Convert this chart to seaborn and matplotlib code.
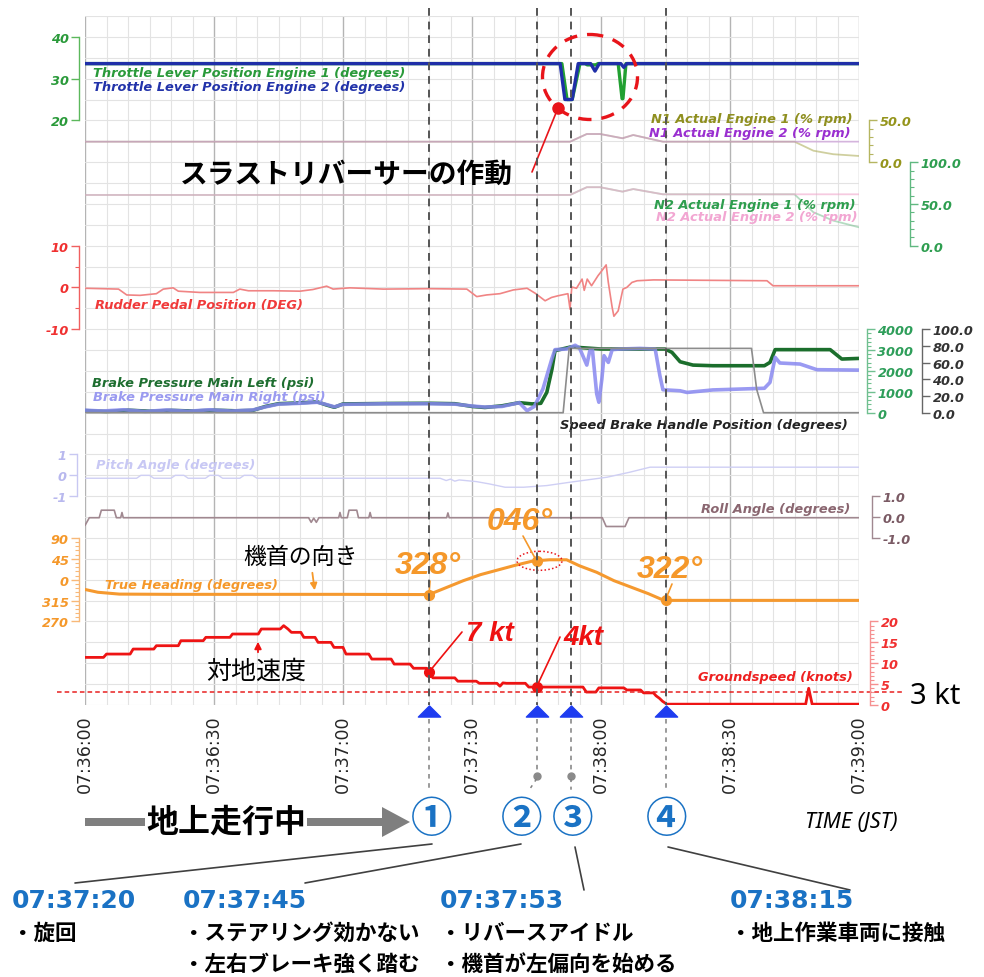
import numpy as np
import matplotlib
matplotlib.use("Agg")
import matplotlib.pyplot as plt
import seaborn as sns
from matplotlib.ticker import FixedLocator, MultipleLocator
from matplotlib.patches import Ellipse, FancyArrow
from matplotlib.markers import MarkerStyle
from matplotlib.path import Path

# ---------------- data (seconds after 07:36:00) ----------------
time_ticks = [0, 30, 60, 90, 120, 150, 180]
time_labels = ["07:36:00", "07:36:30", "07:37:00", "07:37:30", "07:38:00", "07:38:30", "07:39:00"]

events_t = [80, 105, 113, 135]
events_num = ["①", "②", "③", "④"]
events_time = ["07:37:20", "07:37:45", "07:37:53", "07:38:15"]
events_desc = [["・旋回"], ["・ステアリング効かない", "・左右ブレーキ強く踏む"],
               ["・リバースアイドル", "・機首が左偏向を始める"], ["・地上作業車両に接触"]]

th1_t = [0, 110.9, 112.1, 113.3, 115.1, 116.3, 116.8, 118.8, 119.3, 124.0, 124.9, 125.1, 125.8, 180]
th1_v = [33.6, 33.6, 25.0, 25.0, 33.6, 33.6, 33.3, 33.3, 33.6, 33.6, 25.2, 25.2, 33.6, 33.6]
th2_t = [0, 110.5, 111.6, 113.3, 114.7, 117.6, 118.6, 119.6, 124.6, 125.3, 126.0, 180]
th2_v = [33.6, 33.6, 25.0, 25.0, 33.6, 33.6, 31.8, 33.6, 33.6, 32.7, 33.6, 33.6]

n_t = [0, 112.8, 116.7, 119.8, 125.0, 127.5, 134.4, 165.0, 169.4, 174.0, 180]
n1e1_v = [24.5, 24.5, 33.7, 33.7, 28.6, 32.5, 24.5, 24.5, 13.7, 9.5, 7.4]
n1e2_v = [24.5, 24.5, 33.7, 33.7, 28.6, 32.5, 24.5, 24.5, 24.5, 24.5, 24.5]
n2e1_v = [60.7, 60.7, 70.0, 70.0, 64.7, 67.8, 61.5, 61.5, 40.0, 30.0, 22.0]
n2e2_v = [60.7, 60.7, 70.0, 70.0, 64.7, 67.8, 61.5, 61.5, 61.5, 61.5, 61.5]

rd_t = [0, 7.8, 9.7, 12.8, 16.6, 18.2, 20.5, 21.7, 26.7, 34.5, 36, 38, 43.8, 50, 53, 56.2, 57.7, 61.6,
        69.4, 80, 88.8, 91.1, 93.4, 96.5, 99.6, 102.8, 104.7, 107, 108.5, 110, 112.3, 112.8, 113.2,
        114.3, 115.6, 116.1, 116.8, 117.8, 119.3, 120.2, 121.2, 121.7, 122.6, 123, 124, 125.1, 126,
        127.2, 128.4, 132.2, 158.6, 160, 180]
rd_v = [-0.2, -0.4, -1.8, -1.9, -1.5, -0.4, -0.1, -0.9, -1.2, -1.2, -0.4, -0.8, -0.8, -0.9, -0.5, 0.3,
        -0.4, -0.1, -0.4, -0.3, -0.4, -2.2, -1.8, -1.5, -0.6, -0.2, -1.4, -3.2, -2.4, -2.0, -1.5, -5.2,
        0.1, -0.2, 2.0, -0.7, 2.0, 0.4, 2.8, 4.0, 5.4, 1.2, -4.8, -6.9, -5.6, -0.4, 0.0, 1.2, 1.6, 1.8,
        1.6, 0.4, 0.4]

bl_t = [0, 5, 10, 15, 20, 25, 30, 35, 39, 42, 45, 50, 54, 56, 58, 60, 70, 80, 86, 90, 93, 97, 101,
        104, 106, 107.4, 108.6, 109.3, 113, 120, 134.9, 136.5, 138.4, 141.4, 146, 158, 159.3, 160.5,
        173.3, 176, 180]
bl_v = [100, 60, 120, 70, 110, 80, 120, 90, 110, 300, 430, 470, 520, 380, 260, 420, 440, 450, 430,
        300, 250, 330, 480, 420, 450, 975, 2090, 2970, 3150, 3050, 3050, 2890, 2440, 2280, 2250, 2250,
        2410, 3020, 3020, 2570, 2600]
br_t = [0, 4, 9, 14, 19, 24, 29, 34, 39, 42, 45, 50, 54, 56, 58, 60, 70, 80, 86, 90, 93, 97, 101,
        102.8, 104.5, 106.5, 108.6, 109.3, 112, 114, 115, 116.7, 117.4, 118, 119, 119.5, 120.2, 120.7,
        121.7, 122.6, 124.4, 129, 132.6, 133.7, 134.4, 138.4, 140, 146, 158, 159.3, 160.5, 161.6,
        166.3, 170.2, 180]
br_v = [120, 80, 140, 60, 130, 70, 140, 80, 130, 280, 410, 450, 500, 400, 280, 400, 430, 430, 410,
        320, 270, 300, 480, 96, 300, 1140, 2600, 3020, 3050, 3230, 3100, 2280, 2970, 3020, 900, 500,
        1610, 2730, 2410, 3020, 3050, 3080, 3050, 1770, 1100, 1050, 970, 1090, 1170, 1450, 2650, 2380,
        2330, 2060, 2040]

sb_t = [0, 111.2, 112.6, 155.0, 156.2, 157.8, 180]
sb_v = [0, 0, 77, 77, 28, 0, 0]

pt_t = [0, 12, 13, 15, 16, 20, 21, 23, 24, 28, 29, 31, 32, 36, 37, 39, 40, 82.6, 84, 85, 86, 87, 91,
        94, 97.7, 102, 107.4, 112.8, 121.4, 126.7, 131.4, 180]
pt_v = [-0.14, -0.14, 0.0, 0.0, -0.14, -0.14, 0.0, 0.0, -0.14, -0.14, 0.0, 0.0, -0.14, -0.14, 0.0,
        0.0, -0.14, -0.14, -0.25, -0.18, -0.28, -0.22, -0.3, -0.41, -0.57, -0.57, -0.49, -0.33,
        -0.09, 0.15, 0.39, 0.39]

rl_t = [0, 1, 3.3, 3.8, 6.8, 7.3, 8.3, 8.6, 8.9, 52, 52.6, 53.2, 53.8, 54.4, 59, 59.3, 59.6, 61,
        61.4, 63.2, 63.6, 66, 66.3, 66.6, 84.1, 84.4, 84.7, 120.3, 121.2, 125.6, 126.5, 180]
rl_v = [-0.4, -0.03, -0.03, 0.33, 0.33, -0.03, -0.03, 0.22, -0.03, -0.03, -0.25, -0.05, -0.25,
        -0.03, -0.03, 0.22, -0.03, -0.03, 0.33, 0.33, -0.03, -0.03, 0.22, -0.03, -0.03, 0.2, -0.03,
        -0.03, -0.45, -0.45, -0.03, -0.03]

# true heading, unwrapped (360 = 000 deg)
hd_t = [0, 3, 8, 20, 40, 60, 80, 84, 88, 92, 96, 100, 104, 108, 112, 115, 119, 123, 127, 131,
        134, 136, 150, 180]
hd_v = [339, 333, 329, 328.5, 328.5, 328.5, 328, 343, 358, 371, 381, 391, 400, 403, 403, 390, 376,
        358, 344, 330, 318, 315.5, 315.5, 315.5]

gs_t = [0, 4.3, 5.0, 10.5, 11.2, 16.0, 16.6, 21.7, 22.3, 27.5, 28.1, 33.7, 34.3, 40.3, 41.0, 45.4,
        46.2, 47.2, 48.0, 50.2, 50.9, 53.5, 54.2, 57.2, 57.9, 60.0, 60.7, 66.0, 66.7, 71.2, 71.9,
        75.6, 76.4, 79.4, 80.2, 80.9, 86.0, 86.7, 91.0, 91.7, 95.8, 96.5, 97.2, 98.0, 102.4, 103.2,
        115.8, 116.6, 118.8, 119.5, 125.3, 126.0, 129.2, 129.9, 132.2, 132.8, 133.6, 134.3, 135.3,
        167.6, 168.3, 169.1, 180]
gs_v = [11.4, 11.4, 12.2, 12.2, 13.4, 13.4, 14.2, 14.2, 15.4, 15.4, 16.2, 16.2, 17.0, 17.0, 18.2,
        18.2, 19.0, 18.2, 17.4, 17.4, 16.2, 16.2, 15.0, 15.0, 13.8, 13.8, 12.2, 12.2, 11.0, 11.0,
        9.8, 9.8, 8.8, 8.8, 7.6, 6.5, 6.5, 5.7, 5.7, 5.2, 5.2, 4.5, 5.3, 5.2, 5.2, 4.3, 4.3, 3.1,
        3.1, 4.1, 4.1, 3.6, 3.6, 2.9, 2.9, 2.2, 1.6, 0.9, 0.2, 0.2, 4.0, 0.2, 0.2]

hd_marks_t = [80, 105, 135]
hd_marks_lab = ["328°", "046°", "322°"]
gs_marks_t = [80, 105]
gs_marks_lab = ["7 kt", "4kt"]
ref_speed = 3

# ---------------- figure ----------------
sns.set_theme(style="white")
plt.rcParams['font.family'] = ['DejaVu Sans', 'Noto Sans CJK JP']

W, H = 984, 978
fig = plt.figure(figsize=(W / 100, H / 100), dpi=100)
L, R, T, B = 85, 859, 17, 706
NCELL = 33
pos = [L / W, 1 - B / H, (R - L) / W, (B - T) / H]

ax = fig.add_axes(pos)
ax.set_xlim(0, 180)
ax.set_ylim(NCELL, 0)
ax.set_facecolor('white')
ax.set_xticks(time_ticks)
ax.set_xticklabels(time_labels, rotation=90, fontsize=12.5, va='top', ha='center')
ax.xaxis.set_minor_locator(MultipleLocator(5))
ax.set_yticks(range(NCELL + 1))
ax.set_yticklabels([])
ax.tick_params(axis='both', which='both', length=0)
ax.tick_params(axis='x', pad=6.5)
ax.grid(True, which='major', axis='x', color='#b4b4b4', lw=1.0)
ax.grid(True, which='minor', axis='x', color='#e3e3e3', lw=0.8)
ax.grid(True, which='major', axis='y', color='#e3e3e3', lw=0.8)
for s in ax.spines.values():
    s.set_visible(False)


def overlay(v_a, k_a, v_b, k_b):
    a = fig.add_axes(pos)
    per = (v_a - v_b) / (k_b - k_a)
    a.set_ylim(v_a - (NCELL - k_a) * per, v_a + k_a * per)
    a.set_xlim(0, 180)
    a.patch.set_visible(False)
    for s in a.spines.values():
        s.set_visible(False)
    a.grid(False)
    a.tick_params(axis='x', which='both', bottom=False, top=False, labelbottom=False)
    a.set_yticks([])
    return a


def scale(a, side, offset_px, lo, hi, majors, labels, color, spine_color=None, minor=None):
    sc = spine_color or color
    sp = a.spines[side]
    sp.set_visible(True)
    sp.set_position(('outward', offset_px * 0.72))
    sp.set_bounds(lo, hi)
    sp.set_color(sc)
    sp.set_linewidth(1.0)
    a.yaxis.set_ticks_position(side)
    a.set_yticks(majors)
    a.set_yticklabels(labels)
    if minor:
        a.yaxis.set_minor_locator(FixedLocator(list(np.arange(lo, hi + 1e-9, minor))))
    a.tick_params(axis='y', which='major', direction='out', length=6, width=1.0, color=sc,
                  labelcolor=color, labelsize=9.3, pad=1.5)
    a.tick_params(axis='y', which='minor', direction='out', length=3, width=0.8, color=sc)
    for lab in a.get_yticklabels():
        lab.set_fontstyle('italic')
        lab.set_fontweight('bold')


def line(a, x, y, color, lw, alpha=1.0, z=2):
    sns.lineplot(x=x, y=y, ax=a, color=color, linewidth=lw, alpha=alpha, estimator=None,
                 sort=False, legend=False, zorder=z)
    a.set_xlabel('')
    a.set_ylabel('')


# throttle
a_th = overlay(40, 1, 20, 5)
line(a_th, th1_t, th1_v, '#22a032', 2.4)
line(a_th, th2_t, th2_v, '#1f2fa8', 2.4)
scale(a_th, 'left', 6, 20, 40, [20, 30, 40], ['20', '30', '40'], '#2a9a3a', '#5cb85c')

# N1
a_n1 = overlay(50, 5, 0, 7)
line(a_n1, n_t, n1e1_v, '#b0b060', 1.3, 0.6)
line(a_n1, n_t, n1e2_v, '#c890d8', 1.3, 0.55)
scale(a_n1, 'right', 10, 0, 50, [0, 50], ['0.0', '50.0'], '#95951c', '#b5b560', minor=10)

# N2
a_n2 = overlay(100, 7, 0, 11)
line(a_n2, n_t, n2e1_v, '#78c090', 1.3, 0.55)
line(a_n2, n_t, n2e2_v, '#f0a8cc', 1.3, 0.6)
scale(a_n2, 'right', 51, 0, 100, [0, 50, 100], ['0.0', '50.0', '100.0'], '#2e9e50', '#60b880', minor=10)

# rudder
a_rd = overlay(10, 11, -10, 15)
line(a_rd, rd_t, rd_v, '#f08484', 1.2)
scale(a_rd, 'left', 6, -10, 10, [-10, 0, 10], ['-10', '0', '10'], '#f03030', '#f06060', minor=5)

# brakes
a_br = overlay(4000, 15, 0, 19)
line(a_br, bl_t, bl_v, '#1b6e2c', 2.6)
line(a_br, br_t, br_v, '#8888f0', 2.6, 0.85)
scale(a_br, 'right', 8, 0, 4000, [0, 1000, 2000, 3000, 4000], ['0', '1000', '2000', '3000', '4000'],
      '#2e9e5a', '#70c090', minor=200)

# speed brake
a_sb = overlay(100, 15, 0, 19)
line(a_sb, sb_t, sb_v, '#8c8c8c', 1.2)
scale(a_sb, 'right', 63, 0, 100, [0, 20, 40, 60, 80, 100],
      ['0.0', '20.0', '40.0', '60.0', '80.0', '100.0'], '#333333', '#666666')

# pitch
a_pt = overlay(1, 21, -1, 23)
line(a_pt, pt_t, pt_v, '#cfcff4', 1.0)
scale(a_pt, 'left', 8, -1, 1, [-1, 0, 1], ['-1', '0', '1'], '#b8b8ee', '#c8c8f2')

# roll
a_rl = overlay(1, 23, -1, 25)
line(a_rl, rl_t, rl_v, '#a08890', 1.2)
scale(a_rl, 'right', 13, -1, 1, [-1, 0, 1], ['-1.0', '0.0', '1.0'], '#7a5a64', '#a08890')

# heading
a_hd = overlay(450, 25, 270, 29)
line(a_hd, hd_t, hd_v, '#f5992f', 2.2)
scale(a_hd, 'left', 6, 270, 450, [270, 315, 360, 405, 450], ['270', '315', '0', '45', '90'],
      '#f5982a', '#f8b878', minor=9)

# groundspeed
a_gs = overlay(20, 29, 0, 33)
line(a_gs, gs_t, gs_v, '#ee1414', 2.0)
a_gs.plot([-6.5, 190], [ref_speed, ref_speed], ls=(0, (3, 2)), color='#e82020', lw=1.1, clip_on=False)
scale(a_gs, 'right', 11, 0, 20, [0, 5, 10, 15, 20], ['0', '5', '10', '15', '20'],
      '#f03030', '#f59090', minor=1)

# marker dots on traces
hd_marks_v = list(np.interp(hd_marks_t, hd_t, hd_v))
gs_marks_v = list(np.interp(gs_marks_t, gs_t, gs_v))
a_hd.plot(hd_marks_t, hd_marks_v, 'o', ms=7, color='#f5982a', zorder=6, clip_on=False)
a_gs.plot(gs_marks_t, gs_marks_v, 'o', ms=7, color='#ee1111', zorder=6, clip_on=False)

# ---------------- overlay for annotations (figure pixels) ----------------
ov = fig.add_axes([0, 0, 1, 1])
ov.set_xlim(0, W)
ov.set_ylim(H, 0)
ov.axis('off')
ov.patch.set_visible(False)


def to_px(a, x, y):
    X, Y = a.transData.transform((x, y))
    return X, H - Y


def ftext(x, y, s, **kw):
    return ov.text(x, y, s, **kw)


lab_kw = dict(fontstyle='italic', fontweight='bold', fontsize=9.4, va='center', family='DejaVu Sans')
ftext(93, 73, "Throttle Lever Position Engine 1 (degrees)", color='#2a9a3a', **lab_kw)
ftext(93, 88, "Throttle Lever Position Engine 2 (degrees)", color='#2233aa', **lab_kw)
ftext(853, 120, "N1 Actual Engine 1 (% rpm)", color='#8f8f1f', ha='right', **lab_kw)
ftext(851, 134, "N1 Actual Engine 2 (% rpm)", color='#9a2fd0', ha='right', **lab_kw)
ftext(856, 205, "N2 Actual Engine 1 (% rpm)", color='#2e9e4e', ha='right', **lab_kw)
ftext(858, 217, "N2 Actual Engine 2 (% rpm)", color='#f2a6d2', ha='right', **lab_kw)
ftext(95, 305, "Rudder Pedal Position (DEG)", color='#f03a3a', **lab_kw)
ftext(92, 383, "Brake Pressure Main Left (psi)", color='#1e6e30', **lab_kw)
ftext(93, 397, "Brake Pressure Main Right (psi)", color='#9a9af0', **lab_kw)
ftext(848, 425, "Speed Brake Handle Position (degrees)", color='#222222', ha='right', **lab_kw)
ftext(96, 466, "Pitch Angle (degrees)", color='#c8c8f4', **lab_kw)
ftext(850, 510, "Roll Angle (degrees)", color='#8a6670', ha='right', **lab_kw)
ftext(105, 586, "True Heading (degrees)", color='#f5982a', **lab_kw)
ftext(853, 678, "Groundspeed (knots)", color='#ee2020', ha='right', **lab_kw)

# event dashed lines and triangles
tri = MarkerStyle(Path([(-1, -0.5), (1, -0.5), (0, 0.5), (-1, -0.5)],
                       [Path.MOVETO, Path.LINETO, Path.LINETO, Path.CLOSEPOLY]))
ev_px = [to_px(ax, t, 0)[0] for t in events_t]
for i, xp in enumerate(ev_px):
    ov.plot([xp, xp], [9, B], ls=(0, (4, 3)), color='#555555', lw=1.4, zorder=3)
    if i in (0, 3):
        ov.plot([xp, xp], [720, 792], ls=(0, (3, 3)), color='#808080', lw=1.1)
    else:
        ov.plot([xp, xp], [720, 776], ls=(0, (3, 3)), color='#808080', lw=1.1)
        ov.plot(xp, 777, 'o', ms=5, color='#8a8a8a')
        ov.plot([xp, xp - (8 if i == 1 else 0)], [780, 792], ls=(0, (2, 3)), color='#808080', lw=1.1)
    ov.plot(xp, 712, marker=tri, ms=16, color='#1e3cf0', ls='none', zorder=8)

# circled numbers
circ_x = [432, 522, 573, 667]
for cx, s in zip(circ_x, events_num):
    ftext(cx, 820, s, color='#1a72c4', fontsize=30, fontweight='bold', ha='center', va='center',
          family=['Noto Sans CJK JP', 'DejaVu Sans'])

# thrust reverser annotation
ov.add_patch(Ellipse((590, 78), 95, 85, fill=False, ec='#e8141a', lw=2.4, ls=(0, (4, 3)), zorder=9))
ov.plot([558, 532], [109, 173], color='#e8141a', lw=1.2)
ov.plot(558, 109, 'o', ms=8, color='#e8141a')
ftext(180, 175, "スラストリバーサーの作動", fontsize=20, fontweight='bold', color='black',
      va='center', family=['Noto Sans CJK JP', 'DejaVu Sans'])

# heading annotations
ftext(300, 557, "機首の向き", fontsize=16.5, color='black', ha='center', va='center',
      family=['Noto Sans CJK JP', 'DejaVu Sans'])
ov.annotate("", xy=(315, 594), xytext=(312, 571),
            arrowprops=dict(arrowstyle='-|>', color='#f5982a', lw=1.3, mutation_scale=10))
callout_font = dict(fontweight='bold', fontstyle='italic', ha='center', va='center',
                    family='Liberation Sans')
hd_lab_pos = [(428, 566), (520, 522), (670, 570)]
hd_line_from = [(430, 582), (523, 537), (672, 585)]
for (tx, ty), (lx, ly), tm, vm, s in zip(hd_lab_pos, hd_line_from, hd_marks_t, hd_marks_v, hd_marks_lab):
    px, py = to_px(a_hd, tm, vm)
    ov.plot([lx, px], [ly, py], color='#f5982a', lw=1.2)
    ftext(tx, ty, s, fontsize=23, color='#f5982a', **callout_font)
px46, py46 = to_px(a_hd, hd_marks_t[1], hd_marks_v[1])
ov.add_patch(Ellipse((px46 + 3, py46), 45, 19, fill=False, ec='#e8141a', lw=1.1, ls=(0, (1, 1.5))))

# groundspeed annotations
ftext(256, 672, "対地速度", fontsize=18, color='black', ha='center', va='center',
      family=['Noto Sans CJK JP', 'DejaVu Sans'])
ov.annotate("", xy=(258, 640), xytext=(258, 656),
            arrowprops=dict(arrowstyle='-|>', color='#ee1111', lw=1.3, mutation_scale=10))
gs_lab_pos = [(490, 634), (583, 638)]
gs_line_from = [(462, 633), (560, 638)]
for (tx, ty), (lx, ly), tm, vm, s in zip(gs_lab_pos, gs_line_from, gs_marks_t, gs_marks_v, gs_marks_lab):
    px, py = to_px(a_gs, tm, vm)
    ov.plot([lx, px], [ly, py], color='#ee1111', lw=1.2)
    ftext(tx, ty, s, fontsize=20, color='#ee1111', **callout_font)
ftext(910, 696, "3 kt", fontsize=21, color='black', va='center', family='Noto Sans')

# bottom part
ftext(805, 822, "TIME (JST)", fontsize=15.5, fontstyle='italic', color='black', va='center',
      family='Noto Sans')
ov.add_patch(FancyArrow(85, 823, 325, 0, width=8, head_width=30, head_length=28,
                        length_includes_head=True, color='#7f7f7f', lw=0))
ftext(226, 823, "地上走行中", fontsize=23, fontweight='bold', color='black', ha='center',
      va='center', family=['Noto Sans CJK JP', 'DejaVu Sans'],
      bbox=dict(fc='white', ec='none', pad=1))

conn = [((432, 845), (75, 884)), ((521, 845), (305, 884)), ((575, 848), (584, 891)),
        ((668, 848), (850, 891))]
for (x0, y0), (x1, y1) in conn:
    ov.plot([x0, x1], [y0, y1], color='#404040', lw=1.2)

text_x = [12, 183, 440, 730]
for tx, tstr, desc in zip(text_x, events_time, events_desc):
    ftext(tx, 901, tstr, fontsize=18, fontweight='bold', color='#1a72c4', va='center',
          family='DejaVu Sans')
    for j, d in enumerate(desc):
        ftext(tx, 933 + 31 * j, d, fontsize=15.5, fontweight='bold', color='black', va='center',
              family=['Noto Sans CJK JP', 'DejaVu Sans'])

fig.savefig("out.png", dpi=100, facecolor='white')
